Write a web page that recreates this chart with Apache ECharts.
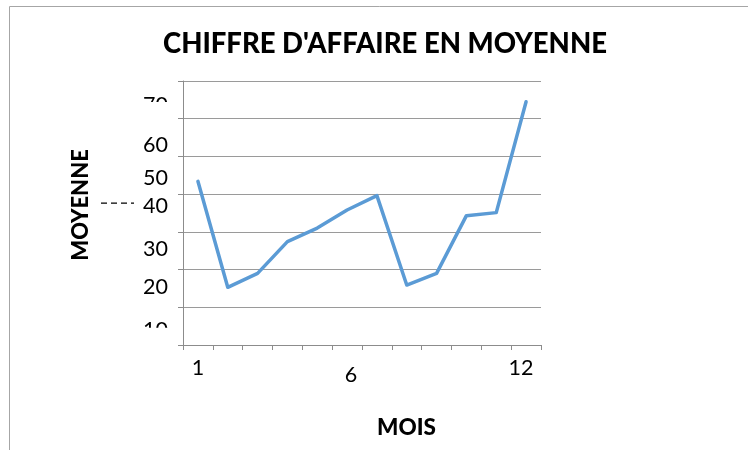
<!DOCTYPE html>
<html>
<head>
<meta charset="utf-8">
<script src="https://cdn.jsdelivr.net/npm/echarts@6/dist/echarts.min.js"></script>
<style>
  html, body { margin: 0; padding: 0; background: #fff; }
  #chart { width: 748px; height: 450px; }
</style>
</head>
<body>
<div id="chart"></div>
<script>
// Monthly average turnover
const months = ['1', '2', '3', '4', '5', '6', '7', '8', '9', '10', '11', '12'];
const moyenne = [43.4, 15.3, 19.0, 27.4, 31.0, 35.8, 39.6, 15.9, 19.0, 34.3, 35.1, 64.5];
const yTickValues = [70, 60, 50, 40, 30, 20, 10];
const shownMonths = ['1', '6', '12'];

const FONT = 'Lato, "Open Sans", sans-serif';
const chart = echarts.init(document.getElementById('chart'), null, { renderer: 'canvas' });

chart.setOption({
  animation: false,
  backgroundColor: '#ffffff',
  title: {
    text: "CHIFFRE D'AFFAIRE EN MOYENNE",
    left: 380,
    top: 25,
    textAlign: 'center',
    textStyle: { fontFamily: FONT, fontWeight: 900, fontSize: 27.5, color: '#000' }
  },
  grid: { left: 183, top: 81, right: 207, bottom: 105, containLabel: false },
  xAxis: {
    type: 'category',
    data: months,
    boundaryGap: true,
    name: 'MOIS',
    nameLocation: 'middle',
    nameGap: 71,
    nameTextStyle: { fontFamily: FONT, fontWeight: 900, fontSize: 22.5, color: '#000', padding: [0, 0, 0, 89] },
    axisLine: { lineStyle: { color: '#8c8c8c', width: 1 } },
    axisTick: { show: true, length: 5, alignWithLabel: false, interval: 0, lineStyle: { color: '#8c8c8c' } },
    axisLabel: {
      interval: 0,
      margin: 12,
      fontFamily: FONT,
      fontSize: 21.5,
      color: '#000',
      formatter: function (v) {
        if (shownMonths.indexOf(v) < 0) return '';
        if (v === '6') return '{six|' + v + '}';
        if (v === '12') return '{twelve|' + v + '}';
        return '{n|' + v + '}';
      },
      rich: {
        n: { fontFamily: FONT, fontSize: 21.5, color: '#000' },
        six: { fontFamily: FONT, fontSize: 21.5, color: '#000', padding: [7, 0, 0, 8] },
        twelve: { fontFamily: FONT, fontSize: 21.5, color: '#000', padding: [0, 10, 0, 0] }
      }
    },
    splitLine: { show: false }
  },
  yAxis: {
    type: 'value',
    min: 0,
    max: 70,
    interval: 10,
    name: 'MOYENNE',
    nameLocation: 'middle',
    nameRotate: 90,
    nameGap: 91,
    nameTextStyle: { fontFamily: FONT, fontWeight: 900, fontSize: 22, color: '#000', padding: [0, 0, 0, 16] },
    axisLine: { show: true, lineStyle: { color: '#8c8c8c', width: 1 } },
    axisTick: { show: true, length: 5, lineStyle: { color: '#8c8c8c' } },
    axisLabel: { show: false },
    splitLine: { show: true, lineStyle: { color: '#9a9a9a', width: 1 } }
  },
  series: [{
    type: 'line',
    data: moyenne,
    symbol: 'none',
    lineStyle: { color: '#5b9bd5', width: 3.5, cap: 'round', join: 'round' }
  }]
});

// Y tick labels, placed from the axis scale with their drawn offsets
const labelOffsets = { 70: 24, 60: 26, 50: 22, 40: 12, 30: 17, 20: 17, 10: 23 };
const graphics = [{
  type: 'rect',
  shape: { x: 9.5, y: 6.5, width: 800, height: 500 },
  style: { fill: 'none', stroke: '#a6a6a6', lineWidth: 1 },
  silent: true, z: 0
}];
yTickValues.forEach(function (v) {
  const py = chart.convertToPixel({ yAxisIndex: 0 }, v);
  graphics.push({
    type: 'text',
    x: 168,
    y: py + labelOffsets[v],
    style: { text: String(v), fontFamily: FONT, fontSize: 21.5, fill: '#000', align: 'right', verticalAlign: 'middle' },
    z: 10
  });
});
// partially hidden labels at the ends of the scale
const p70 = chart.convertToPixel({ yAxisIndex: 0 }, 70);
const p40 = chart.convertToPixel({ yAxisIndex: 0 }, 40);
const p10 = chart.convertToPixel({ yAxisIndex: 0 }, 10);
graphics.push(
  { type: 'rect', shape: { x: 130, y: p70 + 21, width: 46, height: 16 }, style: { fill: '#fff' }, z: 20 },
  { type: 'rect', shape: { x: 130, y: p40 - 6, width: 46, height: 9.5 }, style: { fill: '#fff' }, z: 20 },
  { type: 'rect', shape: { x: 130, y: p10 + 20.5, width: 46, height: 16 }, style: { fill: '#fff' }, z: 20 },
  {
    type: 'line',
    shape: { x1: 101, y1: p40 + 9, x2: 134, y2: p40 + 9 },
    style: { stroke: '#000', lineWidth: 1.3, lineDash: [6, 4] },
    z: 10
  }
);
chart.setOption({ graphic: graphics });
</script>
</body>
</html>
